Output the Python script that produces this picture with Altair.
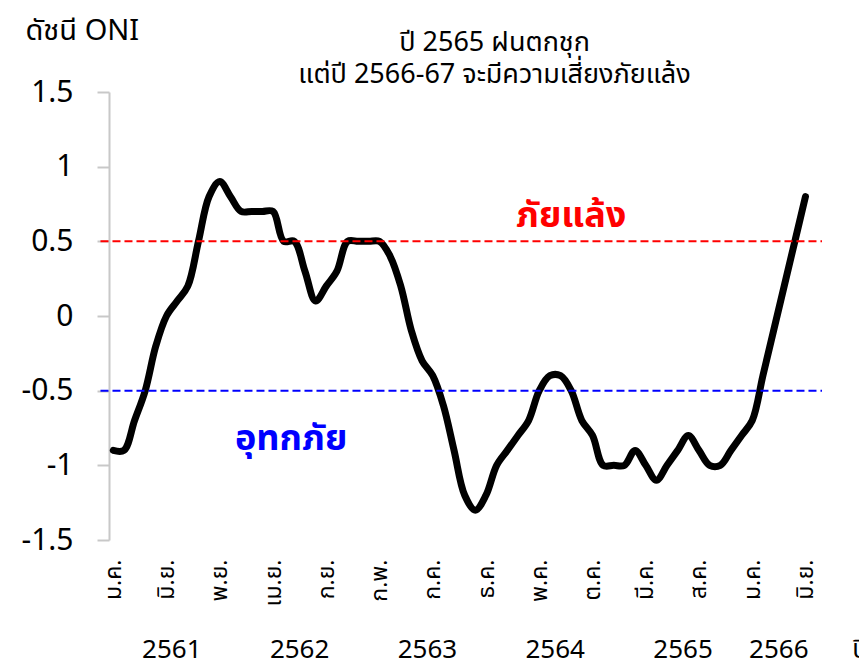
import altair as alt
import pandas as pd

# ---- data ----
month_idx = list(range(66))  # Jan 2561 (2018) .. Jun 2566 (2023)
oni = [-0.9, -0.9, -0.7, -0.5, -0.2, 0.0, 0.1, 0.2, 0.5, 0.8, 0.9, 0.8,
       0.7, 0.7, 0.7, 0.7, 0.5, 0.5, 0.3, 0.1, 0.2, 0.3, 0.5, 0.5,
       0.5, 0.5, 0.4, 0.2, -0.1, -0.3, -0.4, -0.6, -0.9, -1.2, -1.3, -1.2,
       -1.0, -0.9, -0.8, -0.7, -0.5, -0.4, -0.4, -0.5, -0.7, -0.8, -1.0, -1.0,
       -1.0, -0.9, -1.0, -1.1, -1.0, -0.9, -0.8, -0.9, -1.0, -1.0, -0.9, -0.8,
       -0.7, -0.4, -0.1, 0.2, 0.5, 0.8]

tick_months = [0, 5, 10, 15, 20, 25, 30, 35, 40, 45, 50, 55, 60, 65]
tick_labels = ["ม.ค.", "มิ.ย.", "พ.ย.", "เม.ย.", "ก.ย.", "ก.พ.", "ก.ค.",
               "ธ.ค.", "พ.ค.", "ต.ค.", "มี.ค.", "ส.ค.", "ม.ค.", "มิ.ย."]

year_pos = [5.5, 17.5, 29.5, 41.5, 53.5, 62.5]
year_labels = ["2561", "2562", "2563", "2564", "2565", "2566"]
year_unit_label = "ปี"

y_ticks = [-1.5, -1.0, -0.5, 0.0, 0.5, 1.0, 1.5]

drought_level = 0.5
flood_level = -0.5

title_lines = ["ปี 2565 ฝนตกชุก", "แต่ปี 2566-67 จะมีความเสี่ยงภัยแล้ง"]

FONT = "Noto Sans Thai, Noto Sans, sans-serif"

# ---- tables ----
df_line = pd.DataFrame({"m": month_idx, "oni": oni})
df_red = pd.DataFrame({"oni": [drought_level], "m": [-1.2], "m2": [66.55]})
df_blue = pd.DataFrame({"oni": [flood_level], "m": [-1.2], "m2": [66.55]})
df_years = pd.DataFrame({"m": year_pos, "oni": [-2.29] * len(year_pos), "t": year_labels})
df_unit = pd.DataFrame({"m": [69.4], "oni": [-2.29], "t": [year_unit_label]})
df_title = pd.DataFrame({"m": [35.8, 35.8], "oni": [1.775, 1.560], "t": title_lines})
df_red_lbl = pd.DataFrame({"m": [43.0], "oni": [0.596], "t": ["ภัยแล้ง"]})
df_blue_lbl = pd.DataFrame({"m": [16.7], "oni": [-0.9], "t": ["อุทกภัย"]})

xs = alt.Scale(domain=[-0.4, 66.55], nice=False, zero=False)
ys = alt.Scale(domain=[-1.5, 1.5], nice=False, zero=False)

label_js = "[" + ",".join("'" + s + "'" for s in tick_labels) + "]"

x_axis = alt.Axis(values=tick_months, labelExpr=label_js + "[round(datum.value/5)]",
                  labelAngle=270, labelFontSize=23, labelFont=FONT, labelColor="#000000",
                  labelPadding=19, ticks=False, domain=False, grid=False, title=None)

y_axis = alt.Axis(values=y_ticks, labelExpr="toString(datum.value)", labelFontSize=30,
                  labelFont=FONT, labelColor="#000000", labelPadding=24,
                  tickSize=12, tickWidth=2, tickColor="#c8c8c8",
                  domainColor="#c8c8c8", domainWidth=2, grid=False,
                  title="ดัชนี ONI", titleAngle=0, titleAlign="left",
                  titleBaseline="alphabetic", titleX=-84, titleY=-53,
                  titleFontSize=29, titleFont=FONT, titleFontWeight="normal",
                  titleColor="#000000")

X = alt.X("m:Q", scale=xs, axis=x_axis)
Y = alt.Y("oni:Q", scale=ys, axis=y_axis)

line = alt.Chart(df_line).mark_line(
    color="#000000", strokeWidth=7, interpolate="catmull-rom",
    strokeCap="round", strokeJoin="round"
).encode(x=X, y=Y)


def rule(df, color):
    return alt.Chart(df).mark_rule(color=color, strokeWidth=2, strokeDash=[8, 4]).encode(
        x=X, x2="m2:Q", y=Y,
    )


def label(df, color, size, weight="normal", align="center"):
    return alt.Chart(df).mark_text(
        color=color, fontSize=size, fontWeight=weight, font=FONT,
        align=align, baseline="alphabetic"
    ).encode(x=X, y=Y, text="t:N")


chart = alt.layer(
    line,
    rule(df_red, "#ff0000"),
    rule(df_blue, "#0000ff"),
    label(df_red_lbl, "#ff0000", 36, "bold"),
    label(df_blue_lbl, "#0000ff", 36, "bold"),
    label(df_title, "#000000", 27),
    label(df_years, "#000000", 26),
    label(df_unit, "#000000", 26, align="left"),
).properties(
    width=713, height=448,
    padding={"left": 101, "top": 84, "right": 37, "bottom": 121},
    autosize=alt.AutoSizeParams(type="none"),
    background="#ffffff",
).configure_view(stroke=None)

chart.save("out.html", embed_options={"renderer": "svg", "actions": False})
